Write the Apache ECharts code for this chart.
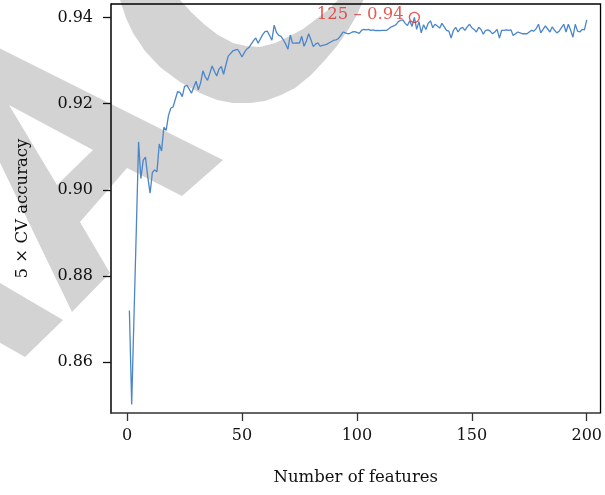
<!DOCTYPE html>
<html>
<head>
<meta charset="utf-8">
<script src="https://cdn.jsdelivr.net/npm/echarts@6/dist/echarts.min.js"></script>
<style>
  html, body { margin: 0; padding: 0; background: #fff; }
  #chart { width: 605px; height: 495px; }
</style>
</head>
<body>
<div id="chart"></div>
<script>
// Cross-validated accuracy for each feature-subset size (1..200)
const accuracy = [
  0.8720, 0.8502, 0.8705, 0.8905, 0.9111, 0.9026, 0.9068, 0.9076, 0.9030, 0.8992,
  0.9040, 0.9046, 0.9042, 0.9106, 0.9090, 0.9145, 0.9138, 0.9172, 0.9189, 0.9192,
  0.9210, 0.9228, 0.9226, 0.9216, 0.9240, 0.9242, 0.9234, 0.9224, 0.9238, 0.9252,
  0.9232, 0.9248, 0.9276, 0.9262, 0.9254, 0.9270, 0.9287, 0.9275, 0.9264, 0.9280,
  0.9286, 0.9268, 0.9290, 0.9310, 0.9316, 0.9322, 0.9324, 0.9326, 0.9318, 0.9308,
  0.9318, 0.9326, 0.9330, 0.9338, 0.9346, 0.9352, 0.9340, 0.9350, 0.9360, 0.9367,
  0.9368, 0.9358, 0.9347, 0.9382, 0.9365, 0.9358, 0.9356, 0.9348, 0.9338, 0.9326,
  0.9359, 0.9340, 0.9340, 0.9341, 0.9340, 0.9356, 0.9333, 0.9345, 0.9362, 0.9348,
  0.9332, 0.9338, 0.9341, 0.9333, 0.9335, 0.9336, 0.9338, 0.9341, 0.9344, 0.9347,
  0.9348, 0.9351, 0.9358, 0.9366, 0.9364, 0.9362, 0.9363, 0.9366, 0.9367, 0.9365,
  0.9363, 0.9370, 0.9372, 0.9371, 0.9372, 0.9370, 0.9371, 0.9369, 0.9370, 0.9369,
  0.9370, 0.9370, 0.9370, 0.9374, 0.9378, 0.9380, 0.9383, 0.9390, 0.9393, 0.9394,
  0.9386, 0.9381, 0.9392, 0.9379, 0.9400, 0.9372, 0.9390, 0.9364, 0.9383, 0.9372,
  0.9386, 0.9392, 0.9376, 0.9384, 0.9380, 0.9375, 0.9386, 0.9378, 0.9370, 0.9368,
  0.9352, 0.9370, 0.9377, 0.9366, 0.9374, 0.9377, 0.9370, 0.9378, 0.9384, 0.9376,
  0.9372, 0.9366, 0.9377, 0.9372, 0.9361, 0.9370, 0.9371, 0.9368, 0.9362, 0.9366,
  0.9372, 0.9352, 0.9370, 0.9370, 0.9371, 0.9370, 0.9371, 0.9358, 0.9362, 0.9366,
  0.9364, 0.9362, 0.9362, 0.9362, 0.9366, 0.9370, 0.9368, 0.9374, 0.9384, 0.9364,
  0.9372, 0.9380, 0.9373, 0.9366, 0.9378, 0.9370, 0.9364, 0.9368, 0.9376, 0.9384,
  0.9366, 0.9384, 0.9370, 0.9354, 0.9384, 0.9368, 0.9366, 0.9372, 0.9371, 0.9394
];
const featureCounts = accuracy.map((_, i) => i + 1);

const xTicks = [0, 50, 100, 150, 200];
const yTicks = [0.86, 0.88, 0.90, 0.92, 0.94];

// Best subset size and its accuracy (highlighted point)
const bestCount = 125;
const bestAccuracy = 0.94;
const bestLabel = '125 \u2013 0.94';

const xTitle = 'Number of features';
const yTitle = '5 \u00d7 CV accuracy';

const FONT = 'DejaVu Serif';
const GREY = '#d3d3d3';
const X_MIN = -7, X_MAX = 206;
const Y_MIN = 0.8482, Y_MAX = 0.9431;

const linePoints = featureCounts.map((n, i) => [n, accuracy[i]]);

// Light grey watermark lettering behind the plot
const watermark = [
  { id: 'wm-ring', type: 'polygon', z: -20, silent: true,
    shape: { points: [
      [118,-6],[120,0],[126,18],[133,33],[145,51],[160,67],[180,82],[200,93],[217,100],[233,103],
      [250,103],[265,101],[281,95],[295,88],[311,75],[325,60],[337,46],[348,30],[357,15],[366,-6],
      [342,-6],[338,0],[328,10],[315,20],[303,29],[290,36],[275,43],[260,47],[246,46],[233,43],
      [218,35],[205,25],[192,13],[180,0],[176,-6]] },
    style: { fill: GREY } },
  { id: 'wm-a', type: 'polygon', z: -20, silent: true,
    shape: { points: [[-79,9],[223,160],[182,196],[127,168],[80,222],[110,273],[72,312],[-40,80]] },
    style: { fill: GREY } },
  { id: 'wm-a-counter', type: 'polygon', z: -19, silent: true,
    shape: { points: [[9,105],[93,150],[57,185]] },
    style: { fill: '#ffffff' } },
  { id: 'wm-bar', type: 'polygon', z: -20, silent: true,
    shape: { points: [[-10,277],[63,320],[25,357],[-10,337]] },
    style: { fill: GREY } }
];

const chart = echarts.init(document.getElementById('chart'), null, { renderer: 'canvas' });

chart.setOption({
  animation: false,
  backgroundColor: '#ffffff',
  graphic: { elements: watermark },
  grid: { left: 111, right: 4, top: 4, bottom: 82 },
  xAxis: {
    type: 'value',
    min: X_MIN, max: X_MAX,
    name: xTitle,
    nameLocation: 'middle',
    nameGap: 56,
    nameTextStyle: { fontFamily: FONT, fontSize: 16.5, color: '#111' },
    axisLine: { show: true, onZero: false, lineStyle: { color: '#333', width: 1.6 } },
    axisTick: { show: true, customValues: xTicks, length: 8, lineStyle: { color: '#333', width: 1.3 } },
    axisLabel: { customValues: xTicks, margin: 15, fontFamily: FONT, fontSize: 16, color: '#111',
                 formatter: v => String(v) },
    splitLine: { show: false }
  },
  yAxis: {
    type: 'value',
    min: Y_MIN, max: Y_MAX,
    name: yTitle,
    nameLocation: 'middle',
    nameGap: 80,
    nameTextStyle: { fontFamily: FONT, fontSize: 16.5, color: '#111' },
    axisLine: { show: true, onZero: false, lineStyle: { color: '#111', width: 1.6 } },
    axisTick: { show: true, customValues: yTicks, length: 8, lineStyle: { color: '#111', width: 1.3 } },
    axisLabel: { customValues: yTicks, margin: 18, fontFamily: FONT, fontSize: 16, color: '#111',
                 formatter: v => v.toFixed(2) },
    splitLine: { show: false }
  },
  series: [
    {
      type: 'line',
      data: linePoints,
      showSymbol: false,
      symbol: 'none',
      lineStyle: { color: '#4a86c8', width: 1.3 },
      z: 2
    },
    {
      type: 'scatter',
      data: [[bestCount, bestAccuracy]],
      symbol: 'circle',
      symbolSize: 10,
      itemStyle: { color: 'rgba(0,0,0,0)', borderColor: '#e0302a', borderWidth: 1.4 },
      label: {
        show: true,
        position: 'left',
        distance: 5,
        offset: [0, -3],
        formatter: bestLabel,
        fontFamily: FONT,
        fontSize: 16.5,
        color: '#e0302a'
      },
      z: 3
    }
  ]
});

// Plot frame: top and right edges, placed from the axis extents
const topLeft = chart.convertToPixel({ seriesIndex: 0 }, [X_MIN, Y_MAX]);
const bottomRight = chart.convertToPixel({ seriesIndex: 0 }, [X_MAX, Y_MIN]);
chart.setOption({
  graphic: {
    elements: watermark.concat([{
      id: 'frame', type: 'polyline', z: 1, silent: true,
      shape: { points: [[topLeft[0], topLeft[1]], [bottomRight[0], topLeft[1]], [bottomRight[0], bottomRight[1]]] },
      style: { stroke: '#000', lineWidth: 1.3, fill: null }
    }])
  }
});
</script>
</body>
</html>
